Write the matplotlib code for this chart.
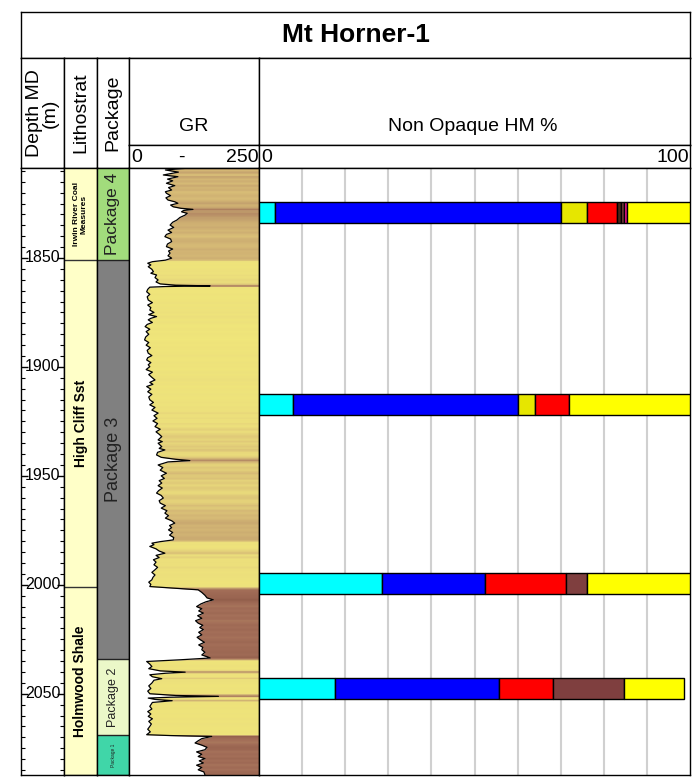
import numpy as np
import matplotlib
matplotlib.use("Agg")
import matplotlib.pyplot as plt
from matplotlib.colors import LinearSegmentedColormap, Normalize

plt.rcParams['font.family'] = ['Liberation Sans', 'DejaVu Sans']

W, H = 693, 779
TOP, BOT = 1808.7, 2087.3

title = "Mt Horner-1"

# lithostratigraphy
litho_names = ["Irwin River Coal\nMeasures", "High Cliff Sst", "Holmwood Shale"]
litho_top = [1808.7, 1851.0, 2001.0]
litho_base = [1851.0, 2001.0, 2087.3]
litho_fontsize = [6, 10, 10]

# packages
pkg_names = ["Package 4", "Package 3", "Package 2", "Package 1"]
pkg_top = [1808.7, 1851.0, 2034.0, 2069.0]
pkg_base = [1851.0, 2034.0, 2069.0, 2087.3]
pkg_colors = ["#A2DC7C", "#808080", "#EBF8C8", "#40D6A8"]
pkg_fontsize = [12.5, 13, 9, 3.5]

# gamma ray log (depth m, API)
gr_depth = [1808.8, 1809.6, 1810.6, 1811.9, 1812.7, 1813.8, 1814.6, 1815.7, 1816.8, 1817.7,
            1818.8, 1819.6, 1820.3, 1821.4, 1822.4, 1823.4, 1824.2, 1824.9, 1825.7, 1826.5,
            1827.2, 1827.7, 1828.2, 1828.8, 1829.5, 1830.3, 1831.4, 1832.6, 1833.6, 1834.9,
            1836.0, 1837.2, 1838.3, 1839.2, 1840.2, 1841.3, 1842.5, 1843.6, 1844.8, 1845.9,
            1846.8, 1847.8, 1849.0, 1850.1, 1851.0, 1851.7, 1852.4, 1853.2, 1854.0, 1855.2,
            1856.3, 1857.0, 1857.8, 1859.0, 1860.1, 1861.0, 1861.9, 1862.5, 1862.8, 1863.1,
            1863.4, 1864.4, 1865.5, 1866.7, 1867.8, 1869.3, 1870.5, 1871.6, 1872.8, 1873.9,
            1875.0, 1876.0, 1876.9, 1877.7, 1878.4, 1879.6, 1880.5, 1881.5, 1882.7, 1883.8,
            1885.0, 1886.3, 1887.6, 1888.8, 1890.0, 1891.2, 1892.4, 1893.7, 1894.8, 1895.8,
            1896.8, 1898.0, 1899.0, 1899.9, 1901.2, 1902.4, 1903.5, 1904.8, 1906.0, 1907.1,
            1908.0, 1909.0, 1910.2, 1911.4, 1912.6, 1913.8, 1915.1, 1916.3, 1917.4, 1918.6,
            1919.8, 1921.2, 1922.4, 1923.6, 1924.8, 1926.0, 1927.4, 1928.6, 1929.8, 1930.9,
            1932.0, 1933.5, 1934.3, 1935.0, 1936.6, 1937.4, 1938.1, 1939.2, 1940.4, 1941.5,
            1942.4, 1943.0, 1943.6, 1945.0, 1946.2, 1947.4, 1948.8, 1950.0, 1951.2, 1952.2,
            1953.3, 1954.5, 1955.6, 1956.8, 1957.9, 1959.0, 1960.2, 1961.4, 1962.5, 1963.7,
            1964.8, 1966.0, 1967.1, 1968.3, 1969.4, 1970.6, 1971.7, 1972.8, 1973.8, 1974.8,
            1976.0, 1977.2, 1978.3, 1979.4, 1980.2, 1980.9, 1981.6, 1982.4, 1983.5, 1984.5,
            1985.5, 1986.5, 1987.5, 1988.5, 1989.6, 1990.8, 1992.0, 1993.1, 1994.3, 1995.5,
            1996.6, 1997.7, 1998.8, 1999.8, 2000.8, 2001.6, 2002.3, 2003.5, 2004.8, 2006.0,
            2006.9, 2007.8, 2008.8, 2010.0, 2011.0, 2012.0, 2013.0, 2014.2, 2015.4, 2016.5,
            2017.6, 2018.6, 2019.6, 2020.6, 2021.8, 2023.0, 2024.1, 2025.2, 2026.4, 2027.6,
            2028.7, 2029.8, 2031.0, 2032.2, 2033.0, 2033.6, 2034.4, 2035.2, 2036.4, 2037.5,
            2038.5, 2039.5, 2040.1, 2040.6, 2041.3, 2042.2, 2043.1, 2043.8, 2045.1, 2046.4,
            2047.6, 2048.8, 2050.0, 2050.8, 2051.2, 2051.6, 2052.0, 2052.6, 2053.2, 2054.0,
            2055.8, 2057.0, 2058.2, 2059.3, 2060.4, 2061.5, 2062.7, 2063.9, 2065.0, 2066.3,
            2067.5, 2068.8, 2069.2, 2069.6, 2070.6, 2071.6, 2072.6, 2073.6, 2074.6, 2075.7,
            2076.7, 2077.8, 2078.8, 2079.8, 2080.8, 2081.8, 2082.8, 2083.9, 2084.9, 2085.9,
            2087.2]
gr_api = [111, 70, 95, 66, 94, 74, 84, 72, 88, 76,
          82, 70, 72, 80, 71, 75, 88, 94, 80, 85,
          100, 123, 105, 101, 112, 108, 98, 92, 84, 79,
          86, 75, 82, 72, 69, 80, 82, 74, 72, 84,
          76, 79, 75, 82, 70, 45, 36, 42, 37, 44,
          47, 42, 53, 50, 56, 52, 60, 90, 156, 70,
          40, 36, 34, 40, 35, 37, 45, 36, 42, 40,
          48, 38, 53, 42, 37, 45, 35, 31, 40, 33,
          38, 32, 30, 38, 33, 41, 35, 37, 44, 36,
          34, 42, 37, 40, 33, 45, 38, 44, 50, 40,
          46, 34, 42, 36, 44, 38, 40, 47, 40, 50,
          44, 56, 48, 54, 46, 55, 50, 60, 52, 58,
          63, 56, 64, 56, 63, 58, 69, 55, 53, 62,
          90, 117, 75, 56, 65, 60, 72, 62, 68, 58,
          63, 56, 64, 57, 53, 62, 66, 58, 60, 70,
          62, 73, 69, 76, 70, 82, 88, 78, 82, 76,
          84, 78, 86, 85, 60, 44, 48, 40, 52, 58,
          69, 52, 58, 47, 52, 48, 55, 50, 44, 50,
          46, 44, 38, 42, 40, 90, 133, 140, 146, 150,
          162, 148, 138, 130, 140, 134, 143, 132, 140, 128,
          133, 142, 136, 143, 134, 140, 131, 137, 145, 134,
          142, 140, 146, 140, 150, 156, 100, 34, 40, 44,
          38, 60, 108, 70, 40, 45, 63, 48, 44, 38,
          42, 36, 40, 90, 172, 80, 37, 50, 83, 45,
          40, 44, 36, 42, 37, 45, 38, 43, 40, 36,
          41, 34, 80, 159, 140, 133, 127, 140, 150, 146,
          130, 140, 133, 146, 135, 143, 130, 140, 133, 144,
          146]

# non opaque heavy minerals (%), one value per sample
sample_depth = [1829.0, 1917.2, 1999.3, 2047.7]
hm_cyan = [3.6, 8.0, 28.6, 17.6]
hm_blue = [66.5, 52.0, 23.8, 38.1]
hm_olive = [5.9, 4.0, 0.0, 0.0]
hm_red = [7.1, 8.0, 18.9, 12.5]
hm_darkbrown = [1.0, 0.0, 0.0, 0.0]
hm_brown = [0.7, 0.0, 4.9, 16.6]
hm_magenta = [0.5, 0.0, 0.0, 0.0]
hm_yellow = [14.7, 28.0, 23.8, 13.9]
hm_series = [hm_cyan, hm_blue, hm_olive, hm_red, hm_darkbrown, hm_brown, hm_magenta, hm_yellow]
hm_colors = ["#00FFFF", "#0000FF", "#E6E600", "#FF0000", "#4A2618", "#7F3F3F", "#FF1493", "#FFFF00"]

fig = plt.figure(figsize=(W / 100, H / 100), dpi=100)


def px_axes(x0, y0, x1, y1):
    ax = fig.add_axes([x0 / W, 1 - y1 / H, (x1 - x0) / W, (y1 - y0) / H])
    ax.set_xticks([])
    ax.set_yticks([])
    for s in ax.spines.values():
        s.set_linewidth(1.0)
        s.set_color("black")
    return ax


# title
ax = px_axes(21, 12, 690, 58)
ax.text(0.5, 0.5, title, ha="center", va="center", fontsize=19, fontweight="bold")

# header cells
ax = px_axes(21, 58, 64, 168)
ax.text(0.5, 0.5, "Depth MD\n(m)", rotation=90, ha="center", va="center",
        multialignment="center", fontsize=14, linespacing=0.95)
ax = px_axes(64, 58, 97, 168)
ax.text(0.5, 0.5, "Lithostrat", rotation=90, ha="center", va="center", fontsize=14)
ax = px_axes(97, 58, 129, 168)
ax.text(0.5, 0.5, "Package", rotation=90, ha="center", va="center", fontsize=14)
ax = px_axes(129, 58, 259, 145)
ax.text(0.5, 0.12, "GR", ha="center", va="bottom", fontsize=14)
ax = px_axes(129, 145, 259, 168)
ax.text(0.02, 0.45, "0", ha="left", va="center", fontsize=14)
ax.text(0.40, 0.45, "-", ha="center", va="center", fontsize=14)
ax.text(0.995, 0.45, "250", ha="right", va="center", fontsize=14)
ax = px_axes(259, 58, 690, 145)
ax.text(0.495, 0.12, "Non Opaque HM %", ha="center", va="bottom", fontsize=14)
ax = px_axes(259, 145, 690, 168)
ax.text(0.005, 0.45, "0", ha="left", va="center", fontsize=14)
ax.text(0.997, 0.45, "100", ha="right", va="center", fontsize=14)

# depth track
ax = px_axes(21, 168, 64, 775)
ax.set_xlim(0, 1)
ax.set_ylim(BOT, TOP)
ax.set_yticks(np.arange(1850, 2051, 50))
ax.set_yticks(np.arange(1810, 2087, 5), minor=True)
ax.tick_params(axis="y", which="major", direction="in", left=True, right=True,
               length=5, width=1, labelleft=False)
ax.tick_params(axis="y", which="minor", direction="in", left=True, right=True,
               length=3, width=0.8)
for d in range(1850, 2051, 50):
    ax.text(0.5, d, str(d), ha="center", va="center", fontsize=11.5)

# lithostrat track
ax = px_axes(64, 168, 97, 775)
ax.set_xlim(0, 1)
ax.set_ylim(BOT, TOP)
for name, t, b, fs in zip(litho_names, litho_top, litho_base, litho_fontsize):
    ax.axhspan(t, b, color="#FFFFC8", lw=0)
    ax.axhline(b, color="#333333", lw=1)
    ax.text(0.5, (t + b) / 2, name, rotation=90, ha="center", va="center",
            fontsize=fs, fontweight="bold", linespacing=1.0)

# package track
ax = px_axes(97, 168, 129, 775)
ax.set_xlim(0, 1)
ax.set_ylim(BOT, TOP)
for name, t, b, c, fs in zip(pkg_names, pkg_top, pkg_base, pkg_colors, pkg_fontsize):
    ax.axhspan(t, b, color=c, lw=0)
    ax.axhline(b, color="#222222", lw=1)
    ax.text(0.5, (t + b) / 2, name, rotation=90, ha="center", va="center",
            fontsize=fs, color="#222222")

# GR track
ax = px_axes(129, 168, 259, 775)
gr_cmap = LinearSegmentedColormap.from_list(
    "gr", [(0.0, "#F0E67A"), (0.15, "#ECDF7C"), (0.3, "#D6BA76"),
           (0.5, "#C09C6C"), (0.75, "#A36E58"), (1.0, "#8E5A48")])
gr_norm = Normalize(30, 170)
fine = np.linspace(TOP, BOT, 1500)
band = gr_cmap(gr_norm(np.interp(fine, gr_depth, gr_api)))[:, None, :]
ax.imshow(band, extent=[0, 250, BOT, TOP], aspect="auto", origin="upper",
          interpolation="nearest")
ax.fill_betweenx(gr_depth, 0, gr_api, color="white", lw=0)
ax.plot(gr_api, gr_depth, color="black", lw=0.9)
ax.set_xlim(0, 250)
ax.set_ylim(BOT, TOP)

# heavy mineral track
ax = px_axes(259, 168, 690, 775)
ax.set_xlim(0, 100)
ax.set_ylim(BOT, TOP)
ax.set_xticks(np.arange(10, 100, 10))
ax.tick_params(axis="x", length=0, labelbottom=False)
ax.grid(axis="x", color="#D0D0D0", lw=1.5)
ax.set_axisbelow(True)
left = np.zeros(len(sample_depth))
for vals, c in zip(hm_series, hm_colors):
    for i, v in enumerate(vals):
        if v > 0:
            ax.barh(sample_depth[i], v, left=left[i], height=9.6, color=c,
                    edgecolor="black", lw=1, zorder=3)
    left += np.array(vals)

fig.savefig("out.png", dpi=100)
